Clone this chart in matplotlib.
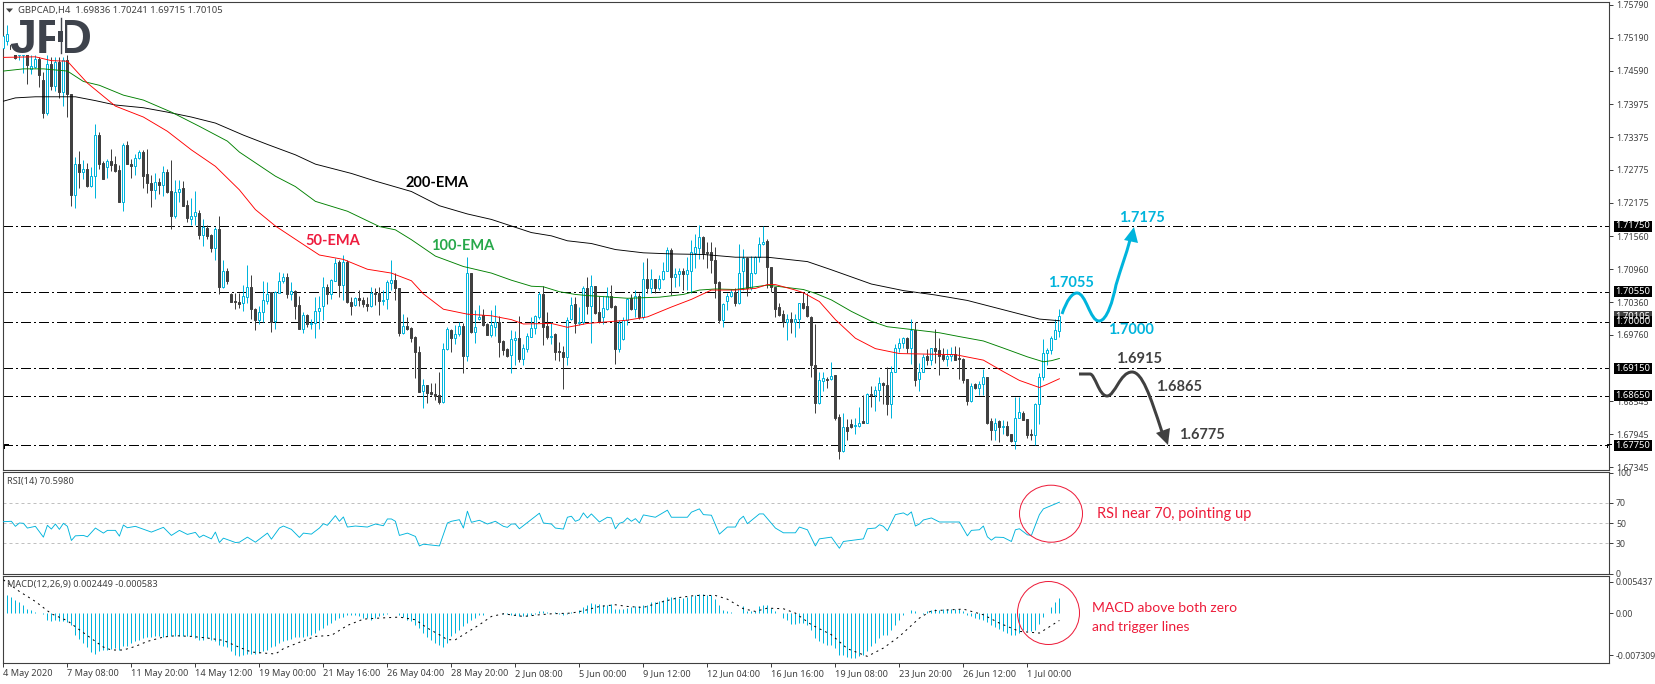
"""GBPCAD H4 chart with EMAs, RSI and MACD panels."""

import numpy as np
import matplotlib
matplotlib.use('Agg')
import matplotlib.pyplot as plt
from matplotlib.patches import Ellipse, PathPatch, Polygon, Rectangle
from matplotlib.path import Path

# candles
opens = [
    1.7500, 1.7512, 1.7505, 1.7500, 1.7488, 1.7488, 1.7495, 1.7462, 1.7466, 1.7480,
    1.7442, 1.7382, 1.7470, 1.7431, 1.7475, 1.7419, 1.7479, 1.7417, 1.7232, 1.7288,
    1.7274, 1.7280, 1.7248, 1.7266, 1.7341, 1.7290, 1.7283, 1.7294, 1.7288, 1.7277,
    1.7219, 1.7323, 1.7289, 1.7285, 1.7300, 1.7311, 1.7270, 1.7254, 1.7241, 1.7255,
    1.7250, 1.7273, 1.7239, 1.7193, 1.7237, 1.7244, 1.7213, 1.7188, 1.7193, 1.7199,
    1.7159, 1.7172, 1.7159, 1.7134, 1.7169, 1.7064, 1.7092, 1.7051, 1.7038, 1.7037,
    1.7035, 1.7046, 1.7063, 1.7023, 1.7003, 1.7018, 1.7038, 1.7055, 1.7001, 1.7053,
    1.7074, 1.7081, 1.7051, 1.7056, 1.7031, 1.6987, 1.7012, 1.6996, 1.6997, 1.7019,
    1.7028, 1.7063, 1.7050, 1.7075, 1.7109, 1.7068, 1.7109, 1.7037, 1.7031, 1.7044,
    1.7040, 1.7033, 1.7029, 1.7052, 1.7053, 1.7038, 1.7041, 1.7071, 1.7076, 1.7062,
    1.6979, 1.6992, 1.6989, 1.6973, 1.6945, 1.6874, 1.6884, 1.6871, 1.6868, 1.6867,
    1.6853, 1.6950, 1.6985, 1.6970, 1.6977, 1.6993, 1.6938, 1.7089, 1.6982, 1.7006,
    1.7012, 1.6996, 1.6976, 1.6991, 1.7000, 1.6965, 1.6951, 1.6939, 1.6967, 1.6970,
    1.6932, 1.6951, 1.6973, 1.6988, 1.7009, 1.7051, 1.6992, 1.6973, 1.6978, 1.6946,
    1.6945, 1.6936, 1.7006, 1.7032, 1.6997, 1.6999, 1.7062, 1.7029, 1.7065, 1.7018,
    1.7008, 1.7024, 1.7047, 1.7029, 1.6950, 1.6969, 1.7003, 1.7043, 1.7024, 1.7048,
    1.7008, 1.7078, 1.7062, 1.7078, 1.7062, 1.7078, 1.7093, 1.7132, 1.7082, 1.7088,
    1.7092, 1.7088, 1.7092, 1.7125, 1.7135, 1.7155, 1.7127, 1.7127, 1.7113, 1.7073,
    1.7004, 1.7038, 1.7047, 1.7055, 1.7035, 1.7092, 1.7117, 1.7062, 1.7089, 1.7119,
    1.7142, 1.7148, 1.7101, 1.7063, 1.7027, 1.7014, 1.6999, 1.7005, 1.7000, 1.7006,
    1.7035, 1.7028, 1.7009, 1.6921, 1.6852, 1.6892, 1.6896, 1.6895, 1.6902, 1.6826,
    1.6764, 1.6807, 1.6814, 1.6809, 1.6810, 1.6818, 1.6816, 1.6869, 1.6867, 1.6876,
    1.6889, 1.6884, 1.6849, 1.6909, 1.6953, 1.6961, 1.6971, 1.6953, 1.6985, 1.6895,
    1.6909, 1.6937, 1.6930, 1.6952, 1.6949, 1.6939, 1.6932, 1.6937, 1.6941, 1.6933,
    1.6932, 1.6895, 1.6855, 1.6887, 1.6880, 1.6886, 1.6899, 1.6818, 1.6802, 1.6818,
    1.6808, 1.6810, 1.6795, 1.6782, 1.6825, 1.6834, 1.6822, 1.6795, 1.6794, 1.6849,
    1.6899, 1.6943, 1.6948, 1.6969, 1.69836,
]
highs = [
    1.7534, 1.7543, 1.7512, 1.7510, 1.7508, 1.7510, 1.7505, 1.7487, 1.7487, 1.7483,
    1.7457, 1.7487, 1.7483, 1.7484, 1.7484, 1.7484, 1.7487, 1.7417, 1.7301, 1.7312,
    1.7296, 1.7290, 1.7282, 1.7361, 1.7346, 1.7293, 1.7297, 1.7315, 1.7302, 1.7286,
    1.7326, 1.7330, 1.7297, 1.7306, 1.7313, 1.7313, 1.7315, 1.7269, 1.7271, 1.7262,
    1.7285, 1.7280, 1.7296, 1.7259, 1.7259, 1.7258, 1.7222, 1.7227, 1.7239, 1.7205,
    1.7187, 1.7176, 1.7160, 1.7173, 1.7193, 1.7113, 1.7098, 1.7053, 1.7053, 1.7052,
    1.7067, 1.7103, 1.7085, 1.7026, 1.7028, 1.7075, 1.7072, 1.7055, 1.7056, 1.7091,
    1.7090, 1.7089, 1.7073, 1.7058, 1.7047, 1.7018, 1.7015, 1.7006, 1.7046, 1.7048,
    1.7082, 1.7069, 1.7079, 1.7116, 1.7113, 1.7122, 1.7113, 1.7045, 1.7045, 1.7058,
    1.7045, 1.7045, 1.7063, 1.7061, 1.7063, 1.7058, 1.7076, 1.7113, 1.7089, 1.7062,
    1.7014, 1.7008, 1.6991, 1.6974, 1.6956, 1.6895, 1.6885, 1.6888, 1.6889, 1.6909,
    1.6961, 1.6990, 1.6986, 1.6994, 1.7000, 1.6997, 1.7118, 1.7090, 1.7021, 1.7031,
    1.7024, 1.6998, 1.7021, 1.7031, 1.7011, 1.6967, 1.6953, 1.6985, 1.6984, 1.7011,
    1.6959, 1.6979, 1.7009, 1.7013, 1.7054, 1.7065, 1.7018, 1.7000, 1.6980, 1.6964,
    1.6955, 1.7008, 1.7045, 1.7045, 1.7027, 1.7065, 1.7081, 1.7085, 1.7066, 1.7048,
    1.7047, 1.7063, 1.7067, 1.7030, 1.7003, 1.7008, 1.7044, 1.7051, 1.7059, 1.7052,
    1.7109, 1.7116, 1.7096, 1.7079, 1.7085, 1.7110, 1.7137, 1.7134, 1.7099, 1.7099,
    1.7099, 1.7118, 1.7149, 1.7160, 1.7176, 1.7156, 1.7145, 1.7145, 1.7136, 1.7074,
    1.7035, 1.7052, 1.7060, 1.7061, 1.7142, 1.7133, 1.7118, 1.7120, 1.7120, 1.7154,
    1.7175, 1.7152, 1.7101, 1.7064, 1.7034, 1.7022, 1.7015, 1.7018, 1.7014, 1.7035,
    1.7054, 1.7053, 1.7010, 1.6996, 1.6909, 1.6909, 1.6900, 1.6926, 1.6903, 1.6832,
    1.6833, 1.6822, 1.6822, 1.6825, 1.6845, 1.6866, 1.6870, 1.6882, 1.6882, 1.6899,
    1.6890, 1.6918, 1.6919, 1.6960, 1.6970, 1.6973, 1.6973, 1.7005, 1.7000, 1.6925,
    1.6941, 1.6950, 1.6952, 1.6987, 1.6970, 1.6952, 1.6950, 1.6954, 1.6955, 1.6954,
    1.6933, 1.6896, 1.6888, 1.6888, 1.6891, 1.6914, 1.6900, 1.6824, 1.6824, 1.6821,
    1.6821, 1.6818, 1.6796, 1.6863, 1.6863, 1.6838, 1.6823, 1.6805, 1.6851, 1.6906,
    1.6969, 1.6953, 1.6974, 1.7005, 1.70241,
]
lows = [
    1.7488, 1.7506, 1.7490, 1.7480, 1.7479, 1.7454, 1.7434, 1.7452, 1.7463, 1.7428,
    1.7372, 1.7378, 1.7423, 1.7422, 1.7409, 1.7395, 1.7375, 1.7212, 1.7207, 1.7244,
    1.7261, 1.7247, 1.7247, 1.7227, 1.7280, 1.7260, 1.7263, 1.7275, 1.7274, 1.7219,
    1.7202, 1.7288, 1.7262, 1.7268, 1.7298, 1.7245, 1.7236, 1.7209, 1.7224, 1.7233,
    1.7230, 1.7235, 1.7169, 1.7189, 1.7218, 1.7211, 1.7183, 1.7176, 1.7176, 1.7151,
    1.7138, 1.7152, 1.7128, 1.7113, 1.7051, 1.7061, 1.7069, 1.7037, 1.7023, 1.7025,
    1.7020, 1.7034, 1.7006, 1.6985, 1.6996, 1.7000, 1.7032, 1.6981, 1.6987, 1.7052,
    1.7071, 1.7043, 1.7040, 1.7005, 1.6987, 1.6979, 1.6991, 1.6987, 1.6971, 1.6987,
    1.7003, 1.7032, 1.7041, 1.7074, 1.7045, 1.7040, 1.7035, 1.7013, 1.7029, 1.7028,
    1.7027, 1.7020, 1.7027, 1.7031, 1.7012, 1.7031, 1.7023, 1.7058, 1.7040, 1.6974,
    1.6977, 1.6985, 1.6964, 1.6898, 1.6872, 1.6843, 1.6851, 1.6867, 1.6858, 1.6849,
    1.6852, 1.6948, 1.6945, 1.6959, 1.6974, 1.6906, 1.6929, 1.6980, 1.6962, 1.7004,
    1.6992, 1.6976, 1.6973, 1.6974, 1.6936, 1.6940, 1.6935, 1.6906, 1.6921, 1.6927,
    1.6921, 1.6945, 1.6972, 1.6978, 1.7006, 1.6958, 1.6968, 1.6959, 1.6930, 1.6929,
    1.6878, 1.6922, 1.7003, 1.6980, 1.6994, 1.6996, 1.7015, 1.6962, 1.7015, 1.6998,
    1.6996, 1.7022, 1.7025, 1.6923, 1.6945, 1.6966, 1.6994, 1.7021, 1.7008, 1.7006,
    1.7006, 1.7053, 1.7053, 1.7053, 1.7059, 1.7077, 1.7092, 1.7049, 1.7063, 1.7065,
    1.7058, 1.7059, 1.7052, 1.7099, 1.7114, 1.7114, 1.7098, 1.7089, 1.7043, 1.6998,
    1.6991, 1.7022, 1.7046, 1.7028, 1.7033, 1.7058, 1.7047, 1.7058, 1.7088, 1.7110,
    1.7141, 1.7061, 1.7055, 1.7008, 1.7010, 1.6991, 1.6966, 1.6979, 1.6973, 1.6988,
    1.7023, 1.7009, 1.6900, 1.6834, 1.6850, 1.6873, 1.6879, 1.6894, 1.6821, 1.6749,
    1.6763, 1.6784, 1.6806, 1.6795, 1.6807, 1.6815, 1.6815, 1.6845, 1.6838, 1.6856,
    1.6849, 1.6830, 1.6825, 1.6908, 1.6944, 1.6952, 1.6943, 1.6923, 1.6883, 1.6873,
    1.6908, 1.6921, 1.6921, 1.6924, 1.6903, 1.6929, 1.6920, 1.6928, 1.6930, 1.6895,
    1.6888, 1.6848, 1.6854, 1.6877, 1.6866, 1.6866, 1.6814, 1.6784, 1.6784, 1.6781,
    1.6796, 1.6791, 1.6780, 1.6768, 1.6824, 1.6820, 1.6787, 1.6784, 1.6775, 1.6813,
    1.6893, 1.6922, 1.6942, 1.6968, 1.69715,
]
closes = [
    1.7522, 1.7525, 1.7498, 1.7482, 1.7495, 1.7498, 1.7469, 1.7467, 1.7480, 1.7450,
    1.7382, 1.7470, 1.7431, 1.7475, 1.7419, 1.7479, 1.7417, 1.7232, 1.7288, 1.7274,
    1.7280, 1.7248, 1.7266, 1.7341, 1.7289, 1.7260, 1.7294, 1.7286, 1.7275, 1.7219,
    1.7323, 1.7289, 1.7285, 1.7300, 1.7310, 1.7267, 1.7253, 1.7241, 1.7255, 1.7250,
    1.7273, 1.7238, 1.7193, 1.7237, 1.7243, 1.7212, 1.7189, 1.7194, 1.7200, 1.7159,
    1.7173, 1.7157, 1.7134, 1.7169, 1.7064, 1.7092, 1.7075, 1.7037, 1.7036, 1.7032,
    1.7047, 1.7063, 1.7023, 1.7003, 1.7018, 1.7040, 1.7051, 1.7000, 1.7054, 1.7075,
    1.7081, 1.7051, 1.7056, 1.7029, 1.6987, 1.7012, 1.6996, 1.6997, 1.7019, 1.7026,
    1.7063, 1.7050, 1.7076, 1.7107, 1.7068, 1.7109, 1.7037, 1.7029, 1.7044, 1.7039,
    1.7033, 1.7029, 1.7052, 1.7051, 1.7038, 1.7040, 1.7072, 1.7076, 1.7061, 1.6979,
    1.6992, 1.6987, 1.6971, 1.6944, 1.6872, 1.6884, 1.6870, 1.6868, 1.6865, 1.6854,
    1.6950, 1.6986, 1.6970, 1.6977, 1.6992, 1.6938, 1.7089, 1.6982, 1.6991, 1.7008,
    1.6994, 1.6976, 1.6994, 1.6999, 1.6964, 1.6948, 1.6937, 1.6968, 1.6970, 1.6932,
    1.6952, 1.6974, 1.6989, 1.7011, 1.7051, 1.6991, 1.6972, 1.6975, 1.6945, 1.6944,
    1.6936, 1.7004, 1.7030, 1.6997, 1.6999, 1.7061, 1.7029, 1.7065, 1.7017, 1.7000,
    1.7025, 1.7047, 1.7027, 1.6950, 1.6998, 1.7003, 1.7041, 1.7023, 1.7048, 1.7009,
    1.7078, 1.7062, 1.7078, 1.7062, 1.7079, 1.7092, 1.7131, 1.7082, 1.7088, 1.7092,
    1.7088, 1.7094, 1.7127, 1.7136, 1.7154, 1.7126, 1.7125, 1.7112, 1.7071, 1.7003,
    1.7032, 1.7048, 1.7054, 1.7035, 1.7090, 1.7117, 1.7062, 1.7089, 1.7119, 1.7142,
    1.7145, 1.7101, 1.7063, 1.7024, 1.7013, 1.6999, 1.7006, 1.7000, 1.7006, 1.7034,
    1.7025, 1.7010, 1.6921, 1.6851, 1.6893, 1.6897, 1.6894, 1.6901, 1.6824, 1.6764,
    1.6807, 1.6801, 1.6807, 1.6811, 1.6816, 1.6816, 1.6869, 1.6867, 1.6875, 1.6889,
    1.6884, 1.6849, 1.6909, 1.6953, 1.6961, 1.6970, 1.6953, 1.6985, 1.6893, 1.6909,
    1.6935, 1.6930, 1.6952, 1.6947, 1.6938, 1.6932, 1.6938, 1.6941, 1.6931, 1.6932,
    1.6893, 1.6855, 1.6883, 1.6880, 1.6886, 1.6899, 1.6816, 1.6802, 1.6815, 1.6807,
    1.6810, 1.6793, 1.6782, 1.6825, 1.6835, 1.6821, 1.6793, 1.6794, 1.6850, 1.6899,
    1.6943, 1.6949, 1.6970, 1.6985, 1.70105,
]

# moving averages, vertices
ema200_x = [0, 3, 8, 18, 23, 28, 35, 41, 47, 53, 60, 66, 73, 78, 87, 93, 102, 109, 116, 122,
            127, 132, 137, 141, 147, 153, 160, 167, 175, 183, 191, 201, 207, 217, 225, 233,
            241, 250, 259, 264]
ema200 = [1.7403, 1.7409, 1.7411, 1.7411, 1.7404, 1.7396, 1.7391, 1.7383, 1.7374, 1.7363,
          1.7341, 1.7324, 1.7305, 1.7288, 1.7271, 1.7257, 1.7238, 1.7212, 1.7197, 1.7187,
          1.7175, 1.7163, 1.7157, 1.7148, 1.7143, 1.7132, 1.7126, 1.7124, 1.7123, 1.7118,
          1.7118, 1.7110, 1.7095, 1.7069, 1.7057, 1.7049, 1.7039, 1.7022, 1.7005, 1.7002]
ema100_x = [0, 5, 10, 16, 20, 24, 30, 35, 42, 49, 56, 59, 68, 73, 78, 86, 94, 98, 102, 108,
            115, 122, 127, 132, 135, 139, 143, 146, 156, 164, 170, 174, 178, 183, 191, 200,
            203, 207, 212, 217, 221, 227, 234, 239, 245, 250, 256, 260, 262, 264]
ema100 = [1.7458, 1.7462, 1.7462, 1.7458, 1.7439, 1.7432, 1.7414, 1.7405, 1.7383, 1.7357,
          1.7330, 1.7310, 1.7266, 1.7247, 1.7220, 1.7202, 1.7174, 1.7168, 1.7150, 1.7120,
          1.7101, 1.7089, 1.7076, 1.7065, 1.7064, 1.7055, 1.7050, 1.7048, 1.7043, 1.7045,
          1.7050, 1.7058, 1.7060, 1.7059, 1.7067, 1.7059, 1.7052, 1.7040, 1.7019, 1.7001,
          1.6991, 1.6986, 1.6980, 1.6973, 1.6965, 1.6952, 1.6936, 1.6927, 1.6929, 1.6933]
ema50_x = [0, 8, 12, 16, 21, 28, 35, 41, 47, 53, 59, 63, 68, 74, 79, 85, 91, 97, 102, 105,
           110, 116, 122, 127, 130, 137, 141, 146, 151, 156, 161, 167, 172, 177, 183, 188,
           191, 193, 198, 200, 204, 208, 213, 218, 224, 238, 245, 250, 254, 259, 261, 264]
ema50 = [1.7483, 1.7484, 1.7477, 1.7476, 1.7436, 1.7394, 1.7374, 1.7348, 1.7314, 1.7284,
         1.7241, 1.7205, 1.7175, 1.7146, 1.7122, 1.7114, 1.7096, 1.7089, 1.7075, 1.7051,
         1.7023, 1.7014, 1.7011, 1.7004, 1.6996, 1.6997, 1.6990, 1.6997, 1.7000, 1.7003,
         1.7009, 1.7027, 1.7041, 1.7058, 1.7058, 1.7061, 1.7068, 1.7068, 1.7058, 1.7053,
         1.7037, 1.7004, 1.6970, 1.6951, 1.6942, 1.6940, 1.6930, 1.6909, 1.6893, 1.6880,
         1.6886, 1.6896]

# RSI vertices
rsi_x = [0, 2, 3, 4, 5, 6, 8, 10, 11, 12, 13, 14, 15, 16, 17, 18, 20, 21, 23, 25, 26, 28, 29,
         30, 31, 33, 37, 40, 42, 44, 46, 48, 49, 50, 52, 53, 54, 55, 58, 59, 61, 63, 66, 67,
         69, 70, 72, 74, 75, 77, 79, 80, 81, 83, 84, 85, 86, 88, 91, 93, 95, 96, 97, 98, 99,
         101, 103, 104, 105, 109, 111, 112, 114, 115, 116, 117, 119, 121, 123, 125, 126, 127,
         128, 129, 134, 135, 137, 138, 140, 141, 142, 143, 144, 145, 146, 147, 149, 151, 152,
         153, 154, 155, 156, 157, 158, 159, 160, 163, 166, 167, 171, 172, 174, 175, 177, 179,
         181, 183, 184, 185, 186, 189, 190, 193, 195, 198, 199, 201, 203, 204, 207, 209, 210,
         215, 216, 218, 219, 220, 221, 223, 225, 226, 227, 228, 229, 230, 232, 234, 239, 241,
         242, 244, 245, 246, 247, 248, 250, 252, 253, 254, 256, 257, 259, 260, 264]
rsi = [51.3, 51.7, 46.7, 50, 49.7, 45, 46.7, 36, 47.7, 44, 49, 43.7, 49.7, 46.7, 32.7, 37.3,
       37.7, 36.3, 45, 40, 42.7, 42.7, 37, 48, 45.3, 46.7, 41, 45.7, 37.7, 42.7, 38.7, 40.7,
       35.7, 38, 34.3, 41, 30.7, 35, 30.7, 31, 36, 31, 40, 34, 45, 47, 43.7, 35.7, 40, 39, 45,
       49.3, 47.7, 57.3, 51.7, 56, 46, 47, 46, 49, 47.3, 54, 54, 51.7, 37.7, 40, 36.7, 27.3,
       29, 27.3, 50, 51.7, 53.3, 45, 61.7, 50.7, 52.7, 49, 51.7, 46.7, 45.7, 49, 49, 44.3,
       59.7, 50, 49, 45, 44, 55.7, 56.7, 51.7, 53.3, 60, 55, 59, 51, 55.7, 55, 44.3, 49.7, 51,
       55, 51.7, 54.3, 50, 58, 55.7, 62.7, 55.7, 55.7, 60.7, 64, 58.3, 57.7, 39, 46, 46, 53.3,
       56.7, 49.3, 59, 59, 45, 40.3, 40.3, 46, 43.3, 27.3, 34.3, 36, 25, 31.7, 34.3, 44.3, 45,
       48.3, 46.7, 42.3, 58.3, 60, 57.7, 61, 47, 49, 53, 55, 51, 51, 37.3, 42.7, 43.3, 47,
       36.3, 33, 36, 35.7, 31.7, 43.3, 44.3, 38.3, 37.7, 58.3, 64, 70.6]

# MACD histogram per bar, in thousandths
macd_hist = [
    3.74, 3.16, 2.82, 2.30, 1.84, 1.44, 0.75, 0.46, 0.17, 0.03,
    -0.12, -1.27, -1.32, -1.15, -1.32, -1.44, -1.61, -2.13, -3.74, -4.43,
    -5.18, -5.92, -6.73, -7.02, -6.50, -6.33, -6.33, -6.21, -6.04, -6.38,
    -5.75, -5.64, -5.18, -4.89, -4.72, -4.31, -4.08, -4.08, -4.03, -4.03,
    -4.08, -3.97, -3.97, -3.91, -3.97, -3.97, -3.97, -4.03, -4.31, -4.60,
    -4.60, -4.31, -4.60, -4.89, -5.58, -5.75, -5.92, -6.61, -7.19, -7.36,
    -7.19, -7.02, -7.02, -7.02, -6.90, -6.61, -6.33, -5.92, -5.64, -5.23,
    -4.89, -4.60, -4.43, -4.20, -4.20, -4.14, -4.03, -3.74, -3.45, -2.88,
    -2.59, -2.01, -1.73, -1.27, -0.86, -0.69, -0.40, -0.29, -0.40, -0.58,
    -0.86, -0.86, -1.15, -0.86, -0.58, -0.29, -0.17, 0.06, -0.06, -0.29,
    -0.69, -1.15, -1.44, -2.01, -2.59, -3.45, -4.20, -4.72, -5.18, -5.46,
    -5.92, -5.18, -4.03, -3.45, -2.88, -2.30, -1.73, -1.15, -0.86, -0.40,
    -0.29, 0.03, -0.06, 0.03, 0.06, -0.12, -0.23, -0.29, -0.40, -0.58,
    -0.58, -0.46, -0.29, -0.12, 0.29, 0.40, 0.23, 0.03, 0.12, -0.12,
    -0.40, -0.23, 0.12, 0.03, 0.46, 1.04, 1.44, 1.73, 1.55, 1.55,
    1.44, 1.44, 1.61, 0.69, 0.69, 0.75, 0.86, 0.98, 1.15, 1.15,
    1.32, 1.44, 1.90, 1.90, 2.01, 2.30, 2.76, 2.76, 2.76, 2.59,
    2.59, 2.76, 2.88, 3.05, 3.28, 3.28, 3.16, 3.05, 2.47, 1.32,
    0.58, 0.29, 0.12, 0.03, 0.03, 1.15, 0.29, 0.29, 0.29, 1.15,
    1.44, 1.44, 0.86, 0.29, 0.03, -0.86, -1.27, -1.90, -1.90, -1.78,
    -1.73, -2.01, -2.88, -4.31, -4.89, -5.18, -5.46, -5.46, -6.04, -7.19,
    -7.30, -7.65, -7.76, -7.76, -7.48, -7.19, -6.50, -5.75, -5.18, -4.31,
    -3.74, -3.74, -2.99, -2.01, -1.15, -0.29, 0.03, 0.46, 0.29, 0.03,
    -0.12, 0.29, 0.46, 0.69, 0.58, 0.69, 0.69, 0.69, 0.69, 0.69,
    0.29, -0.40, -0.58, -0.86, -0.98, -1.15, -1.55, -2.01, -2.47, -2.70,
    -3.16, -3.45, -3.85, -3.74, -3.45, -2.88, -3.16, -3.16, -2.99, -1.84,
    -0.75, 0.03, 0.98, 1.84, 2.65,
]
signal_x = [0, 4, 8, 12, 16, 19, 23, 25, 27, 30, 33, 36, 40, 43, 47, 51, 55, 59, 62, 68, 70, 75,
            78, 82, 86, 90, 94, 99, 103, 106, 109, 111, 113, 115, 119, 122, 125, 130, 134, 137,
            142, 145, 149, 153, 156, 160, 165, 169, 173, 178, 181, 185, 188, 191, 195, 198,
            202, 207, 211, 216, 220, 224, 229, 232, 240, 245, 249, 254, 259, 261, 264]
signal = [5.75, 3.74, 2.01, -0.12, -1.32, -2.88, -4.89, -5.87, -6.38, -6.38, -5.75, -4.89, -4.14,
          -3.91, -4.03, -4.31, -4.72, -5.92, -6.73, -7.07, -6.15, -4.77, -4.03, -3.85, -2.13,
          -1.04, -0.86, -0.69, -1.15, -2.59, -3.74, -4.60, -4.60, -3.74, -2.01, -0.58, -0.12,
          -0.58, -0.29, -0.12, 0.0, 0.40, 1.15, 1.44, 1.15, 0.98, 2.01, 2.70, 3.05, 3.05, 2.41,
          0.75, 0.29, 0.86, 0.75, 0.0, -2.01, -3.74, -6.15, -7.48, -6.04, -4.03, -0.86, 0.40,
          0.69, -0.29, -1.73, -3.16, -3.45, -2.59, -1.27]

# axis labels and levels
levels = [1.7175, 1.7055, 1.7000, 1.6915, 1.6865, 1.6775]
price_ticks = [1.7579, 1.7519, 1.7459, 1.73975, 1.73375, 1.72775, 1.72175, 1.7156, 1.7096,
               1.7036, 1.6976, 1.68545, 1.67945, 1.67345]
rsi_ticks = [100, 70, 50, 30, 0]
macd_ticks = [0.005437, 0.0, -0.007309]
macd_tick_labels = ['0.005437', '0.00', '-0.007309']
date_labels = ['4 May 2020', '7 May 08:00', '11 May 20:00', '14 May 12:00', '19 May 00:00',
               '21 May 16:00', '26 May 04:00', '28 May 20:00', '2 Jun 08:00', '5 Jun 00:00',
               '9 Jun 12:00', '12 Jun 04:00', '16 Jun 16:00', '19 Jun 08:00', '23 Jun 20:00',
               '26 Jun 12:00', '1 Jul 00:00']
last_price = 1.70105

BLUE = '#00b4dc'
DARK = '#404040'
RED = '#ed1c3a'
W, H = 1655, 684
UI_FONT = 'Noto Sans'
NOTE_FONT = 'Lato'

plt.rcParams['lines.scale_dashes'] = False
plt.rcParams['font.family'] = UI_FONT
px = 0.72  # one pixel in points at dpi 100


def panel(top, bottom):
    left, right = 2.5, 1609
    ax = fig.add_axes([left / W, 1 - bottom / H, (right - left) / W, (bottom - top) / H])
    ax.set_xlim((left - 3.4) / 4, (right - 3.4) / 4)
    ax.yaxis.tick_right()
    ax.tick_params(axis='y', length=3, width=px, color=DARK, labelsize=6.3, labelcolor=DARK, pad=2)
    for s in ax.spines.values():
        s.set_color(DARK)
        s.set_linewidth(1.1 * px)
    return ax


fig = plt.figure(figsize=(W / 100, H / 100), dpi=100, facecolor='white')

# price panel
ax = panel(2, 470)
ax.set_ylim(1.7175 - 244 / 5475, 1.7175 + 224 / 5475)
ax.set_xticks([])
ax.set_yticks(price_ticks)
ax.set_yticklabels([f'{t:.5f}' for t in price_ticks])

for lev in levels:
    ax.axhline(lev, color='black', lw=px, zorder=1, antialiased=False,
               dashes=(9.5 * px, 3.5 * px, 2 * px, 3.5 * px))

bars = np.arange(len(opens))
o, h, l, c = map(np.array, (opens, highs, lows, closes))
up = c >= o
ax.vlines(bars[up], l[up], h[up], color=BLUE, lw=px, zorder=2)
ax.vlines(bars[~up], l[~up], h[~up], color=DARK, lw=px, zorder=2)
ax.bar(bars[up], (c - o)[up], bottom=o[up], width=0.5, facecolor='white', edgecolor=BLUE,
       linewidth=px, zorder=3)
ax.bar(bars[~up], (c - o)[~up], bottom=o[~up], width=0.5, facecolor=DARK, edgecolor=DARK,
       linewidth=px, zorder=3)

ax.plot(ema200_x, ema200, color='black', lw=0.9 * px, zorder=4)
ax.plot(ema100_x, ema100, color='green', lw=0.9 * px, zorder=4)
ax.plot(ema50_x, ema50, color='red', lw=0.9 * px, zorder=4)

# RSI panel
ax2 = panel(472, 573.5)
ax2.set_ylim(0, 100.5)
ax2.set_xticks([])
ax2.set_yticks(rsi_ticks)
for t in [70, 50, 30]:
    ax2.axhline(t, color='#c0c0c0', lw=px, dashes=(3 * px, 3 * px), zorder=1)
ax2.plot(rsi_x, rsi, color=BLUE, lw=0.9 * px, zorder=3)

# MACD panel
ax3 = panel(575.5, 663)
ax3.set_ylim(-8.625e-3, 6.5e-3)
ax3.set_yticks(macd_ticks)
ax3.set_yticklabels(macd_tick_labels)
ax3.vlines(bars, 0, np.array(macd_hist) * 1e-3, color=BLUE, lw=px, zorder=2)
ax3.plot(signal_x, np.array(signal) * 1e-3, color='black', lw=px, zorder=3,
         dashes=(2 * px, 4 * px))
ax3.set_xticks(np.arange(len(date_labels)) * 16)
ax3.set_xticklabels(date_labels, ha='left')
ax3.tick_params(axis='x', length=3, width=px, color=DARK, labelsize=6.6, labelcolor=DARK, pad=1.5)

# overlay in pixel coordinates for the notes drawn on top of the chart
over = fig.add_axes([0, 0, 1, 1], zorder=10)
over.set_xlim(0, W)
over.set_ylim(H, 0)
over.axis('off')
over.patch.set_alpha(0)

# logo
over.add_patch(Rectangle((10.5, 17), 78, 38, facecolor='white', edgecolor='none', zorder=2))
LOGO = '#3e434c'
over.text(9.5, 53, 'JF', family='Liberation Sans', weight='bold', fontsize=35, color=LOGO, va='baseline',
          ha='left', zorder=3)
over.text(57, 53, 'D', family='Liberation Sans', weight='bold', fontsize=35, color=LOGO, va='baseline',
          ha='left', zorder=3)
over.add_patch(Rectangle((55, 17), 9.5, 38, facecolor='white', edgecolor='none', zorder=4))
over.plot([60.5, 60.5], [18, 53], color=LOGO, lw=1.4 * px, zorder=5)
over.add_patch(Rectangle((58, 31), 5, 11, facecolor=LOGO, edgecolor='none', zorder=5))

# header texts
over.add_patch(Polygon([(6, 8.5), (13, 8.5), (9.5, 12.5)], facecolor=DARK, edgecolor='none'))
over.text(18, 10.5, 'GBPCAD,H4  1.69836 1.70241 1.69715 1.70105', fontsize=6.8, color=DARK, va='center')
over.text(7, 481.5, 'RSI(14) 70.5980', fontsize=6.6, color=DARK, va='center')
over.text(7, 584.5, 'MACD(12,26,9) 0.002449 -0.000583', fontsize=6.6, color=DARK, va='center')

# EMA names
over.text(437, 183, '200-EMA', family=NOTE_FONT, weight='bold', fontsize=10.5, color='black', ha='center', va='center')
over.text(463, 246, '100-EMA', family=NOTE_FONT, weight='bold', fontsize=10.5, color='#27a84a', ha='center', va='center')
over.text(333, 241, '50-EMA', family=NOTE_FONT, weight='bold', fontsize=10.5, color='#ee1c3e', ha='center', va='center')

# level numbers
over.text(1142, 218, '1.7175', family=NOTE_FONT, weight='bold', fontsize=10.5, color=BLUE, ha='center', va='center')
over.text(1071, 283, '1.7055', family=NOTE_FONT, weight='bold', fontsize=10.5, color=BLUE, ha='center', va='center')
over.text(1131, 330, '1.7000', family=NOTE_FONT, weight='bold', fontsize=10.5, color=BLUE, ha='center', va='center')
over.text(1139, 359, '1.6915', family=NOTE_FONT, weight='bold', fontsize=10.5, color=DARK, ha='center', va='center')
over.text(1179, 387, '1.6865', family=NOTE_FONT, weight='bold', fontsize=10.5, color=DARK, ha='center', va='center')
over.text(1202, 435, '1.6775', family=NOTE_FONT, weight='bold', fontsize=10.5, color=DARK, ha='center', va='center')

# scenario arrows
blue_path = Path([(1062, 314), (1067, 300), (1072, 293), (1077, 293),
                  (1086, 293), (1090, 321), (1099, 321),
                  (1107, 321), (1113, 300), (1116, 285),
                  (1121, 268), (1126, 255), (1130, 240)],
                 [Path.MOVETO] + [Path.CURVE4] * 12)
over.add_patch(PathPatch(blue_path, facecolor='none', edgecolor=BLUE, lw=3 * px, capstyle='butt'))
over.add_patch(Polygon([(1134, 227), (1124, 240), (1138, 243)], facecolor=BLUE, edgecolor='none'))
dark_path = Path([(1079, 374), (1090, 374), (1095, 374), (1099, 396), (1107, 396),
                  (1115, 396), (1120, 372), (1132, 372),
                  (1142, 372), (1150, 395), (1162, 432)],
                 [Path.MOVETO, Path.LINETO] + [Path.CURVE4] * 9)
over.add_patch(PathPatch(dark_path, facecolor='none', edgecolor=DARK, lw=3 * px, capstyle='butt'))
over.add_patch(Polygon([(1168, 445), (1156, 433), (1170, 428)], facecolor=DARK, edgecolor='none'))

# red notes
over.add_patch(Ellipse((1051, 513.7), 63, 57, facecolor='none', edgecolor=RED, lw=px))
over.add_patch(Ellipse((1048.5, 613), 62, 63, facecolor='none', edgecolor=RED, lw=px))
over.text(1097, 514, 'RSI near 70, pointing up', family=NOTE_FONT, fontsize=10.5, color=RED, va='center')
over.text(1091.5, 608, 'MACD above both zero', family=NOTE_FONT, fontsize=10, color=RED, va='center')
over.text(1091.5, 627, 'and trigger lines', family=NOTE_FONT, fontsize=10, color=RED, va='center')

# price flags on the right scale
for p, col in [(last_price, DARK)] + [(lev, 'black') for lev in levels]:
    y = 226 + (1.7175 - p) * 5475
    over.add_patch(Rectangle((1613.5, y - 5.5), 38.5, 11, facecolor=col, edgecolor='none', zorder=6))
    over.text(1632.5, y, f'{p:.5f}', fontsize=6.8, color='white', ha='center', va='center', zorder=7)

# shift markers at both chart edges
over.plot([3.5, 3.5, 8], [448, 444, 444], color='black', lw=px)
over.plot([1607, 1607, 1611], [447, 444, 444], color='black', lw=px)

fig.savefig('out.png', dpi=100, facecolor='white')
